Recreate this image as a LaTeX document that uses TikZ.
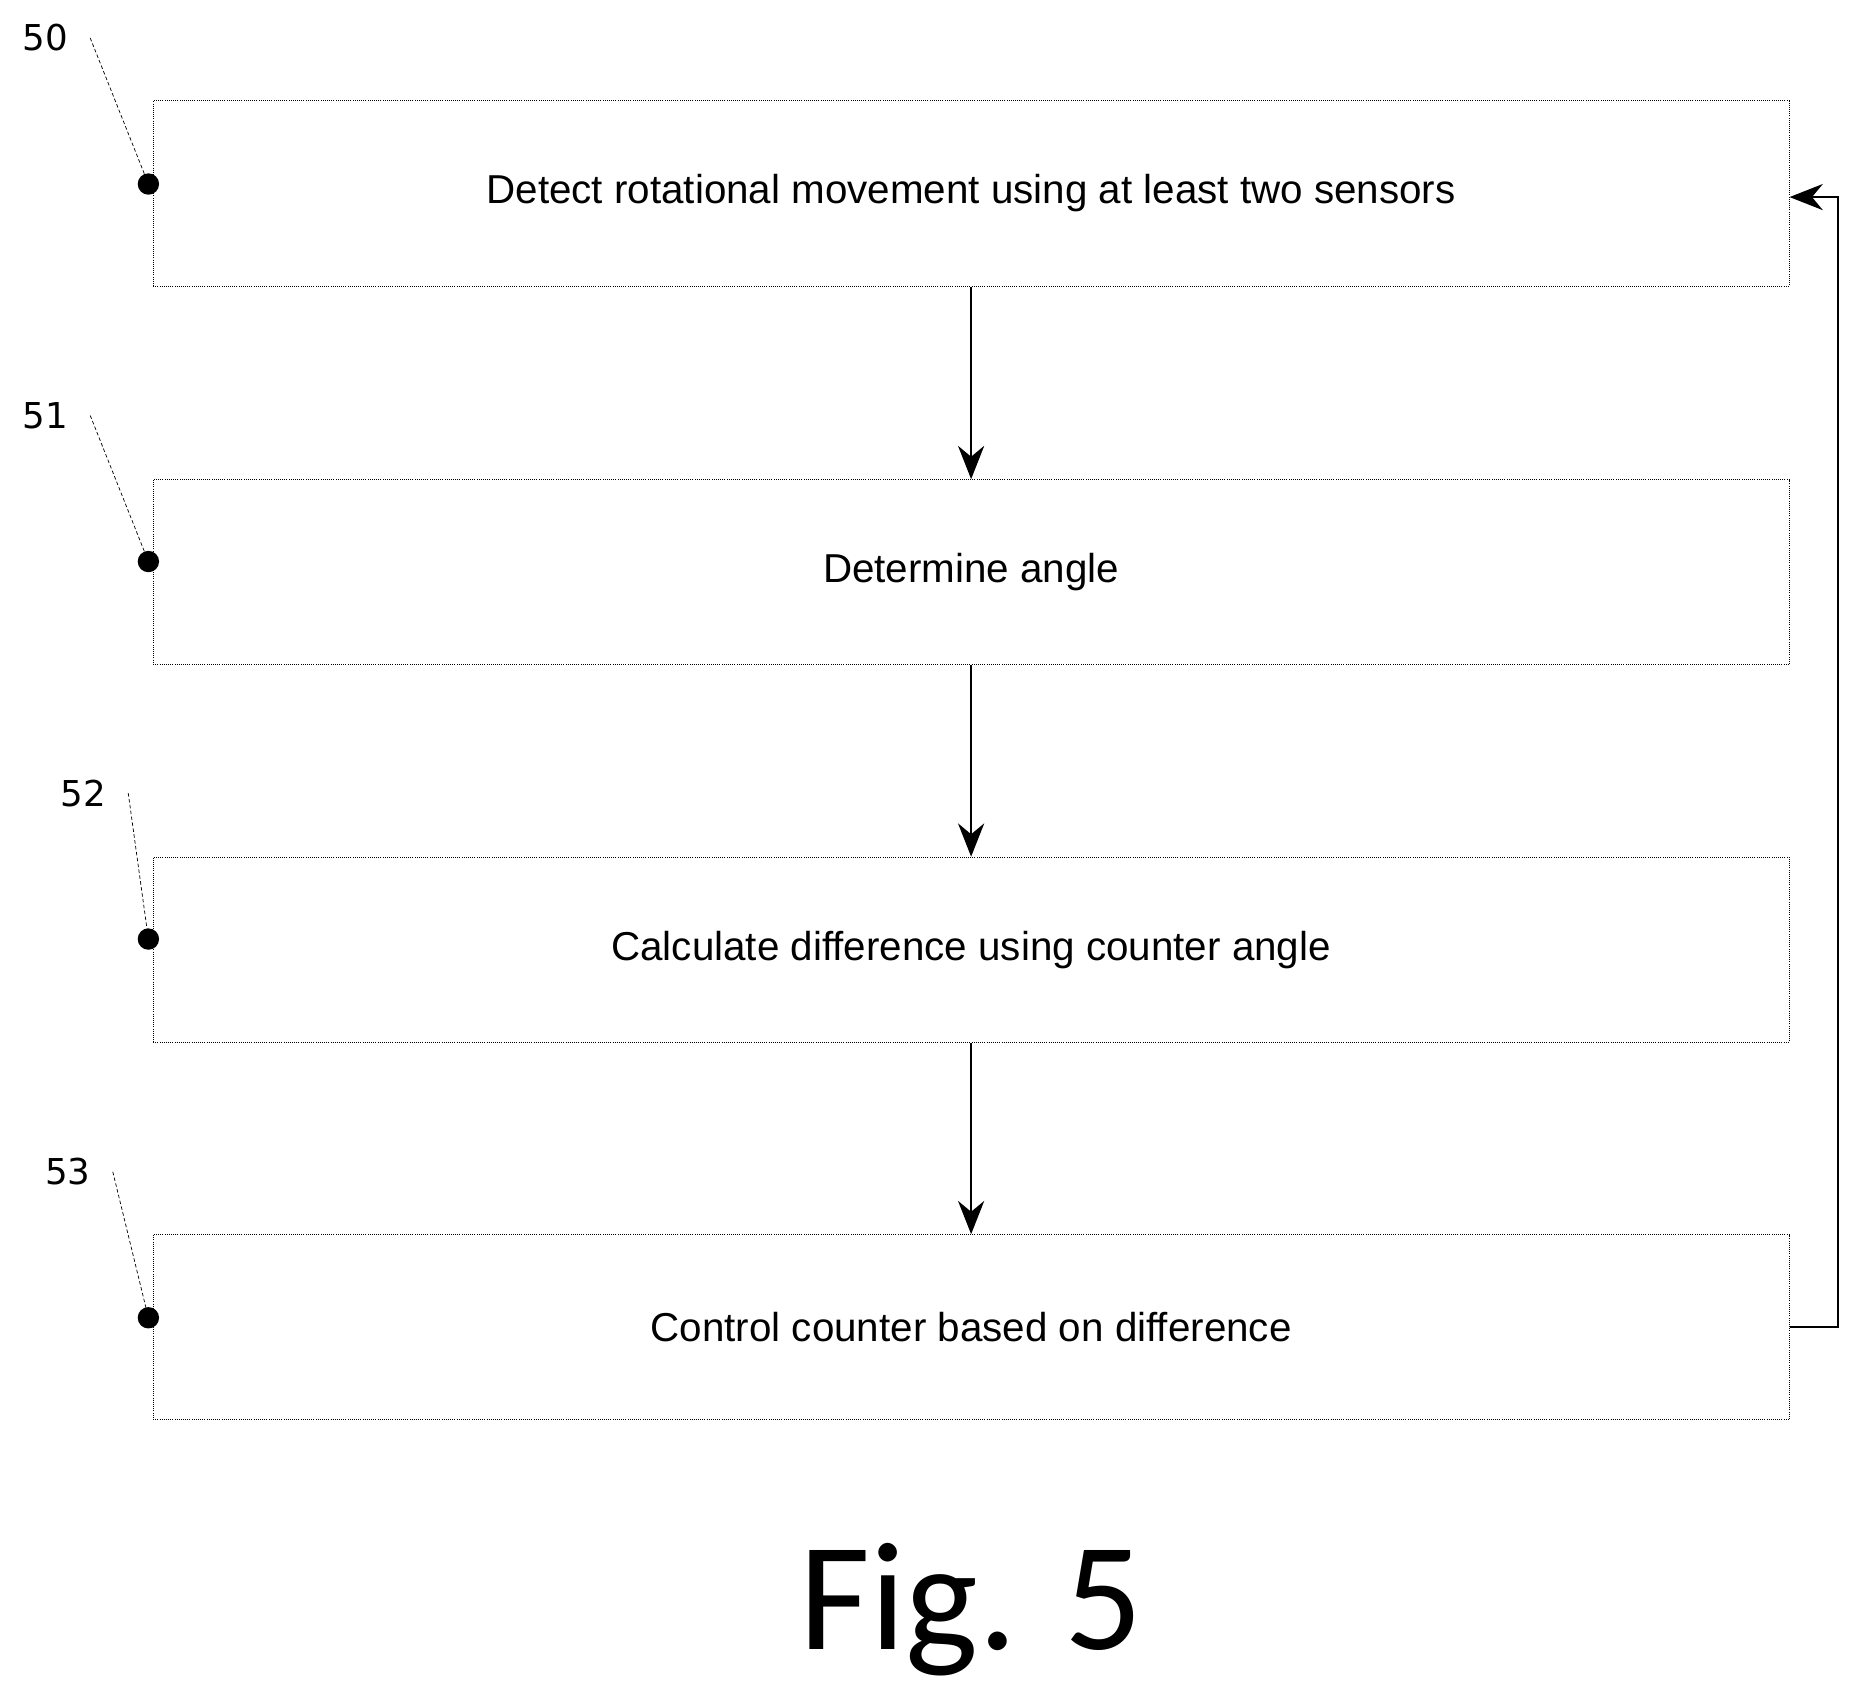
\documentclass[tikz,border=0pt]{standalone}
\usepackage{fontspec}
\setmainfont{Liberation Sans}
\newfontfamily\figfont{Carlito}
\newfontfamily\reffont{DejaVu Sans}
\usetikzlibrary{arrows.meta}

\begin{document}
\begin{tikzpicture}[x=1pt, y=-1pt,
    stepbox/.style={draw, densely dotted, line width=0.8pt, minimum width=1378pt, minimum height=156pt, font=\fontsize{34}{40}\selectfont},
    flow/.style={-{Stealth[length=28pt, width=22pt]}, line width=2pt},
    lead/.style={densely dashed, line width=0.6pt},
    ref/.style={font=\reffont\fontsize{30}{36}\selectfont}]
    \useasboundingbox (0,0) rectangle (1560,1434);
    % process steps
    \node[stepbox] (detect) at (818,163) {Detect rotational movement using at least two sensors};
    \node[stepbox] (angle) at (818,482) {Determine angle};
    \node[stepbox] (diff) at (818,800) {Calculate difference using counter angle};
    \node[stepbox] (ctrl) at (818,1118) {Control counter based on difference};
    \draw[flow] (detect) -- (angle);
    \draw[flow] (angle) -- (diff);
    \draw[flow] (diff) -- (ctrl);
    \coordinate (back) at (1548,1118);
    \draw[flow] (ctrl.east) -- (back) |- ([yshift=-3pt]detect.east);
    % reference numerals
    \foreach \n/\lx/\ly/\dy in {50/38/32/155, 51/38/350/473, 52/70/668/791, 53/57/987/1110} {
        \node[ref] (r\n) at (\lx,\ly) {\n};
        \fill (125,\dy) circle (9pt);
        \draw[lead] (\lx+38,\ly) -- (125,\dy);
    }
    \node[font=\figfont\fontsize{130}{150}\selectfont] (fig) at (818,1356) {Fig. 5};
\end{tikzpicture}
\end{document}
